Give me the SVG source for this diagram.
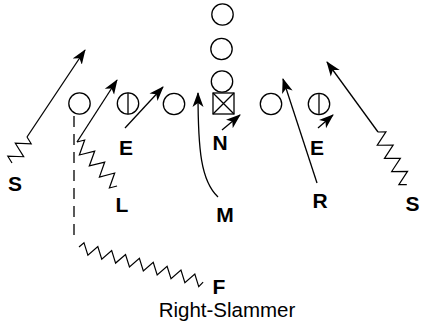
<svg xmlns="http://www.w3.org/2000/svg" width="425" height="332" viewBox="0 0 425 332">
<defs>
<marker id="ah" markerUnits="userSpaceOnUse" markerWidth="16" markerHeight="12" refX="14" refY="6" orient="auto">
<path d="M0,0.5 L15,6 L0,11.5 L4,6 Z" fill="#000"/>
</marker>
<style>
.pl{fill:#fff;stroke:#000;stroke-width:1.3}
.ln{fill:none;stroke:#000;stroke-width:1.3}
.ar{fill:none;stroke:#000;stroke-width:1.3;marker-end:url(#ah)}
.zz{fill:none;stroke:#000;stroke-width:1.2;stroke-linejoin:miter}
.lb{font-family:"Liberation Sans",Arial,sans-serif;font-weight:bold;font-size:21px;text-anchor:middle}
.tt{font-family:"Liberation Sans",Arial,sans-serif;font-size:20.5px;text-anchor:middle}
</style>
</defs>
<rect width="425" height="332" fill="#fff"/>
<g id="connectors">
<polyline class="zz" transform="translate(27,137) rotate(120)" points="0,0 3.75,-7 11.25,7 18.75,-7 26.25,7 30,0"/>
<line class="ar" x1="27" y1="137" x2="85" y2="50"/>
<polyline class="zz" transform="translate(77,142) rotate(47.7)" points="0,0 3.7,-7 11.2,7 18.6,-7 26,7 33.5,-7 41,7 48.3,-7 55.8,7 59.5,0"/>
<line class="ar" x1="77" y1="142" x2="117" y2="80"/>
<line class="ar" x1="125" y1="128" x2="163" y2="87"/>
<line class="ar" x1="222" y1="130" x2="240" y2="115"/>
<path class="ar" d="M218,197 C201,181 198,150 198,93"/>
<line class="ar" x1="317" y1="183" x2="283" y2="79"/>
<line class="ar" x1="318" y1="128" x2="333" y2="115"/>
<polyline class="zz" transform="translate(378,132) rotate(61.3)" points="0,0 3.75,-7 11.25,7 18.75,-7 26.25,7 33.75,-7 41.25,7 48.75,-7 56.25,7 60,0"/>
<line class="ar" x1="378" y1="132" x2="327" y2="62"/>
<line class="ln" x1="74" y1="116" x2="74" y2="242" stroke-dasharray="11,7"/>
<polyline class="zz" transform="translate(79,247) rotate(15.8)" points="0,0 3.6,-5.5 10.8,5.5 18,-5.5 25.2,5.5 32.4,-5.5 39.6,5.5 46.8,-5.5 54,5.5 61.2,-5.5 68.4,5.5 75.6,-5.5 82.8,5.5 90,-5.5 97.2,5.5 104.4,-5.5 111.6,5.5 118.8,-5.5 126,5.5 129,0"/>
</g>
<g id="p-top1"><circle class="pl" cx="222.5" cy="14.5" r="10.7"/></g>
<g id="p-top2"><circle class="pl" cx="221.5" cy="49" r="10.7"/></g>
<g id="p-top3"><circle class="pl" cx="222" cy="81.5" r="10.7"/></g>
<g id="p-center"><rect class="pl" x="213" y="93" width="21" height="21"/><path class="ln" d="M213,93 L234,114 M234,93 L213,114"/></g>
<g id="p-l1"><circle class="pl" cx="79.5" cy="103.5" r="10.7"/></g>
<g id="p-l2"><circle class="pl" cx="128" cy="103.5" r="10.7"/><line class="ln" x1="128" y1="92.8" x2="128" y2="114.2"/></g>
<g id="p-l3"><circle class="pl" cx="174" cy="104" r="10.7"/></g>
<g id="p-r1"><circle class="pl" cx="271" cy="104" r="10.7"/></g>
<g id="p-r2"><circle class="pl" cx="319" cy="104" r="10.7"/><line class="ln" x1="319" y1="93.3" x2="319" y2="114.7"/></g>
<g id="labels">
<text class="lb" x="15" y="191">S</text>
<text class="lb" x="122" y="212">L</text>
<text class="lb" x="126" y="155">E</text>
<text class="lb" x="220" y="150">N</text>
<text class="lb" x="225" y="222">M</text>
<text class="lb" x="317" y="155">E</text>
<text class="lb" x="320" y="208">R</text>
<text class="lb" x="412.5" y="211">S</text>
<text class="lb" x="219" y="294">F</text>
<text class="tt" x="227" y="317">Right-Slammer</text>
</g>
</svg>
